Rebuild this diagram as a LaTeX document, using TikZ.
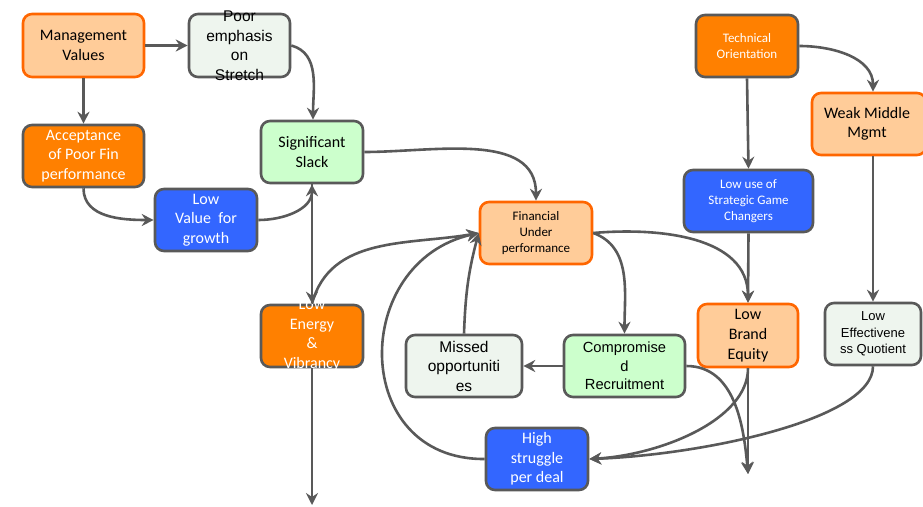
\documentclass[tikz,border=0pt]{standalone}
\usepackage{fontspec}
\setmainfont{Carlito}
\newfontfamily\arialf{Liberation Sans}
\usetikzlibrary{arrows.meta}
\definecolor{bgray}{HTML}{595959}
\definecolor{peach}{HTML}{FFCC99}
\definecolor{oborder}{HTML}{FF6600}
\definecolor{ofill}{HTML}{FF8000}
\definecolor{bfill}{HTML}{3366FF}
\definecolor{gfill}{HTML}{CCFFCC}
\definecolor{lfill}{HTML}{EEF5EE}
\tikzset{
  box/.style={draw=bgray, line width=2.6pt, rounded corners=9pt, inner sep=0pt},
  peachbox/.style={box, fill=peach, draw=oborder},
  orangebox/.style={box, fill=ofill},
  bluebox/.style={box, fill=bfill},
  greenbox/.style={box, fill=gfill},
  lightbox/.style={box, fill=lfill},
  txt/.style={align=center, inner sep=0pt, font=\fontsize{16}{19.5}\selectfont},
  smalltxt/.style={align=center, inner sep=0pt, font=\fontsize{13}{16}\selectfont},
  atxt/.style={align=center, inner sep=0pt, font=\arialf\fontsize{15.5}{19.5}\selectfont},
  conn/.style={draw=bgray, line width=2.6pt, -{Stealth[length=12pt,width=12pt,inset=4pt]}},
}
\begin{document}
\begin{tikzpicture}[x=1pt,y=-1pt]
\useasboundingbox (0,0) rectangle (923,506);
% boxes
\node[peachbox, minimum width=121pt, minimum height=63pt] (MV) at (83.5,45.5) {};
\node[lightbox, minimum width=101pt, minimum height=63pt] (PE) at (239.5,45.5) {};
\node[orangebox, minimum width=121pt, minimum height=62pt] (APF) at (83.5,156) {};
\node[bluebox, minimum width=102pt, minimum height=62pt] (LVG) at (206,220) {};
\node[greenbox, minimum width=102pt, minimum height=62pt] (SS) at (312,152) {};
\node[peachbox, minimum width=112pt, minimum height=62pt] (FU) at (536,233) {};
\node[orangebox, minimum width=102pt, minimum height=62pt] (LE) at (312,336) {};
\node[lightbox, minimum width=116pt, minimum height=62pt] (MO) at (464,366) {};
\node[greenbox, minimum width=121pt, minimum height=62pt] (CR) at (624.5,366) {};
\node[bluebox, minimum width=102pt, minimum height=62pt] (HS) at (537,459) {};
\node[orangebox, minimum width=102pt, minimum height=62pt] (TO) at (747,46) {};
\node[peachbox, minimum width=114pt, minimum height=62pt] (WM) at (869,124) {};
\node[bluebox, minimum width=129pt, minimum height=62pt] (LU) at (748.5,201) {};
\node[peachbox, minimum width=100pt, minimum height=63pt] (LB) at (748,335.5) {};
\node[lightbox, minimum width=96pt, minimum height=62pt] (LEQ) at (873,334) {};
% texts
\node[txt] (MVt) at (MV) {Management\\Values};
\node[atxt] (PEt) at (PE) {Poor\\emphasis\\on\\Stretch};
\node[txt, text=white] (APFt) at (APF) {Acceptance\\of Poor Fin\\performance};
\node[txt, text=white] (LVGt) at (LVG) {Low\\Value\ \ for\\growth};
\node[txt] (SSt) at (SS) {Significant\\Slack};
\node[smalltxt] (FUt) at (FU) {Financial\\Under\\performance};
\node[txt, text=white] (LEt) at ([yshift=1pt]LE) {Low\\Energy\\\&\\Vibrancy};
\node[atxt, font=\arialf\fontsize{15.5}{19.5}\selectfont] (MOt) at (MO) {Missed\\opportuniti\\es};
\node[atxt, font=\arialf\fontsize{14.7}{18.5}\selectfont] (CRt) at (CR) {Compromise\\d\\Recruitment};
\node[txt, text=white] (HSt) at (HS) {High\\struggle\\per deal};
\node[smalltxt, text=white] (TOt) at (TO) {Technical\\Orientation};
\node[txt] (WMt) at ([xshift=-2pt]WM) {Weak Middle\\Mgmt};
\node[smalltxt, text=white] (LUt) at (LU) {Low use of\\Strategic Game\\Changers};
\node[txt, font=\fontsize{16}{20}\selectfont] (LBt) at (LB) {Low\\Brand\\Equity};
\node[atxt, font=\arialf\fontsize{13}{16.5}\selectfont] (LEQt) at (LEQ) {Low\\Effectivene\\ss Quotient};
% free ends
\coordinate (LEend) at (312,505);
\coordinate (LBend) at (748,474);
% connectors
\draw[conn] (MV.east) -- (PE.west);
\draw[conn] (MV.south) -- (APF.north);
\draw[conn] (APF.south) to[out=-90,in=180] (LVG.west);
\draw[conn] (LVG.east) to[out=0,in=-90] (SS.south);
\draw[conn] (PE.east) to[out=-15,in=90] ([xshift=1pt]SS.north);
\draw[conn] (SS.south) -- (LE.north);
\draw[conn] (SS.east) to[out=0,in=90] (FU.north);
\draw[conn] (LE.north) to[out=75,in=190] (FU.west);
\draw[conn] (LE.south) -- (LEend);
\draw[conn] (MO.north) to[out=88,in=255] (FU.west);
\draw[conn] (HS.west) .. controls (350,460) and (350,262) .. (FU.west);
\draw[conn] (FU.east) to[out=-20,in=90] (CR.north);
\draw[conn] (FU.east) to[out=5,in=90] (LB.north);
\draw[conn] (CR.west) -- (MO.east);
\draw[conn] (CR.east) to[out=0,in=95] (LBend);
\draw[conn] (LB.south) -- (LBend);
\draw[conn] (LB.south) .. controls (748,420) and (660,455) .. (HS.east);
\draw[conn] (LEQ.south) .. controls (873,420) and (700,455) .. (HS.east);
\draw[conn] (TO.south) -- (LU.north);
\draw[conn] (LU.south) -- (LB.north);
\draw[conn] (TO.east) to[out=0,in=90] ([xshift=4pt]WM.north);
\draw[conn] ([xshift=4pt]WM.south) -- (LEQ.north);
\end{tikzpicture}
\end{document}
